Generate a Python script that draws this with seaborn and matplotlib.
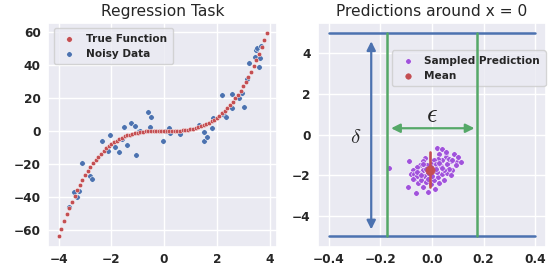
import numpy as np
import pandas as pd
import matplotlib
matplotlib.use("Agg")
import matplotlib.pyplot as plt
import seaborn as sns

# ---------------- data ----------------
true_x = [-4.0, -3.9, -3.8, -3.7, -3.6, -3.5, -3.4, -3.3, -3.2, -3.1,
          -3.0, -2.9, -2.8, -2.7, -2.6, -2.5, -2.4, -2.3, -2.2, -2.1,
          -2.0, -1.9, -1.8, -1.7, -1.6, -1.5, -1.4, -1.3, -1.2, -1.1,
          -1.0, -0.9, -0.8, -0.7, -0.6, -0.5, -0.4, -0.3, -0.2, -0.1,
          0.0, 0.1, 0.2, 0.3, 0.4, 0.5, 0.6, 0.7, 0.8, 0.9,
          1.0, 1.1, 1.2, 1.3, 1.4, 1.5, 1.6, 1.7, 1.8, 1.9,
          2.0, 2.1, 2.2, 2.3, 2.4, 2.5, 2.6, 2.7, 2.8, 2.9,
          3.0, 3.1, 3.2, 3.3, 3.4, 3.5, 3.6, 3.7, 3.8, 3.9]
true_y = [-64.0, -59.32, -54.87, -50.65, -46.66, -42.88, -39.3, -35.94, -32.77, -29.79,
          -27.0, -24.39, -21.95, -19.68, -17.58, -15.63, -13.82, -12.17, -10.65, -9.26,
          -8.0, -6.86, -5.83, -4.91, -4.1, -3.38, -2.74, -2.2, -1.73, -1.33,
          -1.0, -0.73, -0.51, -0.34, -0.22, -0.13, -0.06, -0.03, -0.01, 0.0,
          0.0, 0.0, 0.01, 0.03, 0.06, 0.13, 0.22, 0.34, 0.51, 0.73,
          1.0, 1.33, 1.73, 2.2, 2.74, 3.38, 4.1, 4.91, 5.83, 6.86,
          8.0, 9.26, 10.65, 12.17, 13.82, 15.63, 17.58, 19.68, 21.95, 24.39,
          27.0, 29.79, 32.77, 35.94, 39.3, 42.88, 46.66, 50.65, 54.87, 59.32]

noisy_x = [-3.62, -3.42, -3.32, -3.24, -3.12, -2.81, -2.75, -2.37, -2.14, -2.04,
           -1.87, -1.73, -1.58, -1.52, -1.41, -1.27, -1.10, -1.06, -0.95, -0.63,
           -0.51, -0.53, -0.05, 0.09, 0.20, 0.22, 0.61, 1.31, 1.50, 1.52,
           1.61, 1.81, 1.84, 2.19, 2.28, 2.36, 2.57, 2.59, 2.85, 2.94,
           3.02, 3.14, 3.23, 3.45, 3.50, 3.54, 3.59, 3.65, 3.66, -0.92]
noisy_y = [-46.4, -37.1, -40.3, -36.3, -19.2, -27.3, -29.2, -6.4, -12.2, -2.7,
           -9.7, -12.6, -5.2, 2.5, -8.5, 4.9, 3.1, -14.5, -0.1, 11.5,
           8.2, 2.3, -6.3, 0.1, 1.9, -1.5, -2.0, 3.6, -0.8, -6.0,
           -3.8, 2.0, 8.0, 21.8, 9.9, 8.4, 22.5, 14.0, 20.0, 22.8,
           14.4, 31.6, 41.0, 44.6, 49.0, 50.2, 38.8, 44.1, 51.4, -0.2]

pred_x = [0.021, 0.038, 0.029, 0.056, 0.086, 0.098, 0.073, 0.060, 0.079, 0.092,
          0.054, 0.041, 0.024, 0.009, -0.004, -0.026, -0.033, -0.045, -0.058, -0.075,
          -0.081, -0.068, -0.053, -0.036, -0.017, -0.062, -0.004, 0.009, 0.024, 0.041,
          0.057, 0.073, 0.028, 0.011, 0.047, -0.017, -0.036, -0.030, -0.049, -0.068,
          -0.088, 0.034, 0.015, -0.004, -0.020, -0.011, -0.043, -0.056, -0.024, 0.002,
          -0.036, 0.067, 0.047, 0.009, 0.021, 0.067, 0.079, 0.111, 0.054, -0.056,
          -0.075, -0.017, 0.041, -0.043, 0.015, -0.024, 0.028, -0.094, -0.168, 0.100]
pred_y = [-0.64, -0.69, -0.93, -0.93, -0.97, -1.32, -1.29, -1.46, -1.72, -1.50,
          -1.10, -1.26, -1.18, -1.26, -1.42, -1.13, -1.29, -1.50, -1.59, -1.72,
          -1.91, -2.16, -2.37, -2.57, -2.81, -2.86, -2.40, -2.21, -2.08, -1.91,
          -1.88, -2.00, -2.37, -2.65, -2.21, -1.88, -1.72, -2.04, -1.88, -1.91,
          -1.29, -1.55, -1.46, -1.59, -1.50, -1.75, -2.24, -2.04, -2.32, -2.04,
          -1.42, -1.67, -1.72, -1.75, -1.83, -1.18, -1.26, -1.34, -0.85, -1.83,
          -2.16, -2.16, -1.62, -1.99, -1.67, -1.67, -1.39, -2.57, -1.62, -1.08]

mean_x = [-0.006]
mean_y = [-1.72]
mean_err = 0.86

delta_bound = 5.0          # horizontal limits y = +/- delta
eps_bound = 0.175          # vertical limits x = +/- eps
x_window = [-0.4, 0.4]

# ---------------- style ----------------
sns.set_theme(style="darkgrid")
plt.rcParams.update({
    "font.family": ["DejaVu Sans"],
    "font.weight": "bold",
    "mathtext.fontset": "cm",
    "xtick.major.size": 0,
    "ytick.major.size": 0,
    "xtick.major.pad": 4.5,
    "ytick.major.pad": 5.5,
    "xtick.labelsize": 8.7,
    "ytick.labelsize": 8.7,
    "xtick.color": "#262626",
    "ytick.color": "#262626",
    "axes.titlepad": 5,
})

blue = "#4C72B0"
red = "#C44E52"
green = "#55A868"
purple = "#A052DC"

W, H = 549, 268
fig = plt.figure(figsize=(W / 100, H / 100), dpi=100)
ax1 = fig.add_axes([48.3 / W, 1 - 246.5 / H, 229 / W, 223.5 / H])
ax2 = fig.add_axes([318.3 / W, 1 - 246.5 / H, 227.2 / W, 223.5 / H])

# ---- left panel ----
df_true = pd.DataFrame({"x": true_x, "y": true_y})
df_noisy = pd.DataFrame({"x": noisy_x, "y": noisy_y})
sns.scatterplot(data=df_true, x="x", y="y", ax=ax1, color=red, s=10,
                edgecolor="white", linewidth=0.3, label="True Function", zorder=3)
sns.scatterplot(data=df_noisy, x="x", y="y", ax=ax1, color=blue, s=16,
                edgecolor="white", linewidth=0.4, label="Noisy Data", zorder=2)
ax1.set_xticks([-4, -2, 0, 2, 4])
ax1.set_yticks([-60, -40, -20, 0, 20, 40, 60])
ax1.set_xlabel("")
ax1.set_ylabel("")
ax1.set_title("Regression Task", fontsize=11.2, color="#262626", fontweight="normal")
leg1 = ax1.legend(loc="upper left", prop={"weight": "bold", "size": 7.6},
                  handletextpad=0.6, borderpad=0.5)
for h in leg1.legend_handles:
    h.set_sizes([16])

# ---- right panel ----
df_pred = pd.DataFrame({"x": pred_x, "y": pred_y})
df_mean = pd.DataFrame({"x": mean_x, "y": mean_y})
sns.scatterplot(data=df_pred, x="x", y="y", ax=ax2, color=purple, s=16,
                edgecolor="white", linewidth=0.4, label="Sampled Prediction", zorder=2)
sns.scatterplot(data=df_mean, x="x", y="y", ax=ax2, color=red, s=45,
                edgecolor=red, linewidth=0.4, label="Mean", zorder=4)
ax2.plot([mean_x[0], mean_x[0]], [mean_y[0] - mean_err, mean_y[0] + mean_err],
         color=red, lw=1.9, zorder=4)

for yb in (-delta_bound, delta_bound):
    ax2.plot(x_window, [yb, yb], color=blue, lw=1.8, zorder=3)
for xb in (-eps_bound, eps_bound):
    ax2.plot([xb, xb], [-delta_bound, delta_bound], color=green, lw=1.8, zorder=3)

ax2.annotate("", xy=(-0.235, -4.66), xytext=(-0.235, 4.6),
             arrowprops=dict(arrowstyle="<|-|>", color=blue, lw=1.6,
                             mutation_scale=13, shrinkA=0, shrinkB=0))
ax2.annotate("", xy=(0.165, 0.32), xytext=(-0.158, 0.32),
             arrowprops=dict(arrowstyle="<|-|>", color=green, lw=1.6,
                             mutation_scale=13, shrinkA=0, shrinkB=0))
ax2.text(-0.297, -0.1, r"$\delta$", fontsize=15, ha="center", va="center", color="#262626")
ax2.text(0.0, 0.95, r"$\epsilon$", fontsize=19, ha="center", va="center", color="#262626")

ax2.set_xlim(-0.44, 0.44)
ax2.set_ylim(-5.5, 5.5)
ax2.set_xticks([-0.4, -0.2, 0.0, 0.2, 0.4])
ax2.set_yticks([-4, -2, 0, 2, 4])
ax2.set_xlabel("")
ax2.set_ylabel("")
ax2.set_title("Predictions around x = 0", fontsize=11.2, color="#262626", fontweight="normal")
leg2 = ax2.legend(loc="upper right", bbox_to_anchor=(1.0, 0.877), borderaxespad=0,
                  prop={"weight": "bold", "size": 7.6}, handletextpad=0.6, borderpad=0.5)
for h in leg2.legend_handles:
    h.set_sizes([16])
leg2.set_zorder(2.5)

fig.savefig("out.png", dpi=100)
